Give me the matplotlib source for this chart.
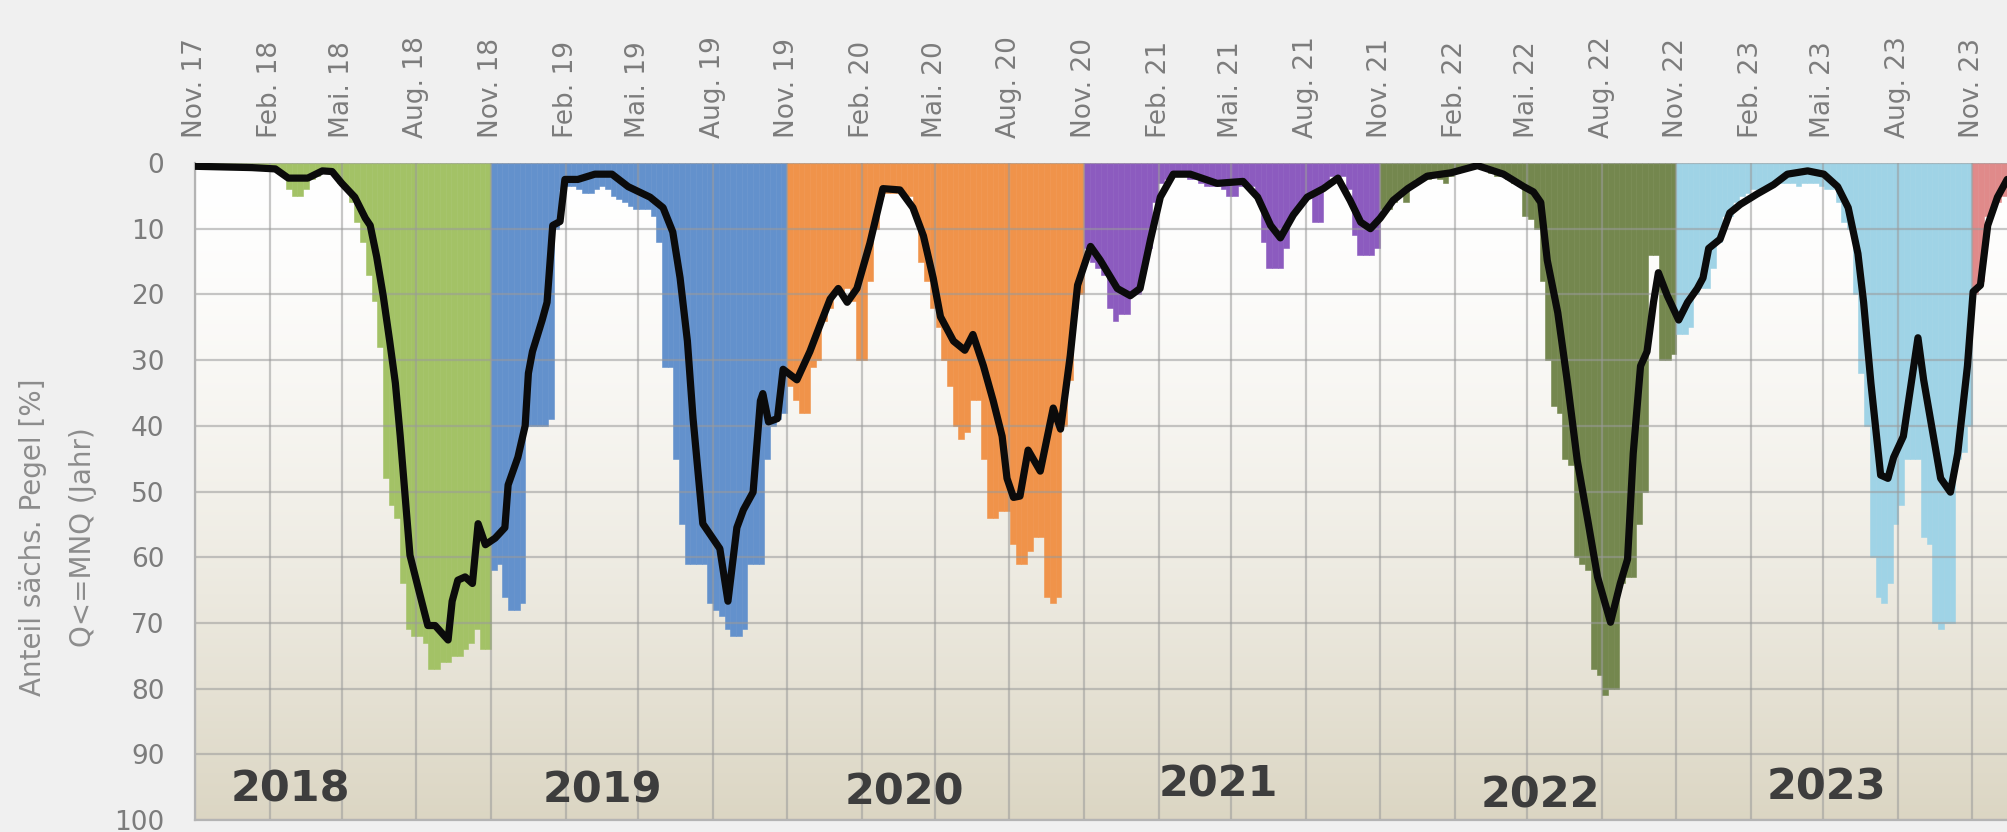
import matplotlib
matplotlib.use("Agg")
import matplotlib.pyplot as plt
import matplotlib.dates as mdates
import numpy as np
from datetime import date, timedelta

# Share of Saxon gauges with Q <= MNQ, weekly values per hydrological year (Nov-Oct)
hydro_years = [2018, 2019, 2020, 2021, 2022, 2023, 2024]

bars_2018 = [0.5, 0.5, 0.5, 0.5, 0.5, 0.5, 0.5, 0.5, 0.5, 0.5, 0.5, 1, 1, 1, 1, 1.5,
             4, 5, 5, 4, 2.5, 2, 1.5, 1.5, 2, 3, 4, 6, 9, 12, 17, 21, 28, 48, 52, 54,
             64, 71, 72, 72, 73, 77, 77, 76, 76, 75, 75, 74, 73, 71, 74, 74]
bars_2019 = [62, 61, 66, 68, 68, 67, 40, 40, 40, 40, 39, 10, 4, 3.5, 3.5, 4, 4.5, 4.5, 4, 3.5, 4,
             5, 5.5, 6, 6.5, 7, 7, 7, 8, 12, 31, 31, 45, 55, 61, 61, 61, 61, 67, 68, 69,
             71, 72, 72, 71, 61, 61, 61, 45, 40, 39, 38]
bars_2020 = [34, 36, 38, 38, 31, 30, 24, 22, 20, 20, 19, 21, 30, 30, 18, 10, 5, 4.5, 4.5, 4.5,
             5, 5, 8, 15, 18, 22, 25, 30, 34, 40, 42, 41, 36, 36, 45, 54, 54, 53, 53, 58,
             61, 61, 59, 57, 57, 66, 67, 66, 40, 33, 22, 20]
bars_2021 = [13, 15, 16, 17, 22, 24, 23, 23, 20, 20, 16, 13, 6, 3, 2.5, 2, 2, 2, 2.5, 2.5,
             3, 3.5, 3.5, 3.5, 4, 5, 5, 3.5, 3, 3.5, 5, 12, 16, 16, 16, 13, 8, 7, 6, 5,
             9, 9, 3, 2, 2, 2, 4, 11, 14, 14, 14, 13]
bars_2022 = [7, 7, 6, 5, 6, 3, 2.5, 2.5, 2.5, 2, 2.5, 3, 2, 1.5, 1, 0.5, 0.5, 0.5, 1, 1.5,
             2, 2, 2.5, 3, 3.5, 8, 8.5, 10, 18, 30, 37, 38, 45, 46, 60, 61, 62, 77, 78, 81,
             80, 80, 64, 63, 63, 55, 50, 14, 14, 30, 30, 29]
bars_2023 = [26, 26, 25, 20, 19, 19, 16, 12, 8, 8, 6, 5, 4.5, 4, 4, 3.5, 3.5, 3, 3, 3,
             3, 3.5, 3, 3, 3, 3.5, 4, 4, 6, 9, 10, 20, 32, 40, 60, 66, 67, 64, 55, 52,
             45, 45, 45, 57, 58, 70, 71, 70, 70, 45, 44, 40]
bars_2024 = [20, 18, 8, 7, 6, 5, 5]

year_bars = [bars_2018, bars_2019, bars_2020, bars_2021, bars_2022, bars_2023, bars_2024]
year_colors = ["#a3c266", "#6391cc", "#f0934a", "#8c5bbf", "#74874e", "#9fd3e6", "#e08a8a"]

# Smoothed share (black curve)
line_dates = [
    "2017-11-01", "2018-01-10", "2018-02-08", "2018-02-24", "2018-03-20", "2018-04-07",
    "2018-04-19", "2018-05-01", "2018-05-17", "2018-05-30", "2018-06-05", "2018-06-13",
    "2018-06-21", "2018-06-29", "2018-07-06", "2018-07-12", "2018-07-18", "2018-07-24",
    "2018-08-03", "2018-08-15", "2018-08-24", "2018-09-09", "2018-09-14", "2018-09-21",
    "2018-09-30", "2018-10-09", "2018-10-16", "2018-10-25", "2018-11-06", "2018-11-18",
    "2018-11-22", "2018-12-04", "2018-12-13", "2018-12-17", "2018-12-22", "2019-01-03",
    "2019-01-09", "2019-01-16", "2019-01-25", "2019-01-31", "2019-02-16", "2019-03-09",
    "2019-03-30", "2019-04-19", "2019-05-16", "2019-06-01", "2019-06-13", "2019-06-22",
    "2019-07-01", "2019-07-08", "2019-07-20", "2019-08-10", "2019-08-20", "2019-08-31",
    "2019-09-08", "2019-09-20", "2019-09-29", "2019-10-02", "2019-10-09", "2019-10-20",
    "2019-10-27", "2019-11-13", "2019-11-29", "2019-12-12", "2019-12-24", "2020-01-03",
    "2020-01-14", "2020-01-26", "2020-02-11", "2020-02-27", "2020-03-19", "2020-04-04",
    "2020-04-17", "2020-04-29", "2020-05-08", "2020-05-24", "2020-06-07", "2020-06-17",
    "2020-06-30", "2020-07-12", "2020-07-23", "2020-07-29", "2020-08-06", "2020-08-14",
    "2020-08-24", "2020-09-08", "2020-09-24", "2020-10-03", "2020-10-15", "2020-10-24",
    "2020-11-09", "2020-11-21", "2020-12-12", "2020-12-28", "2021-01-09", "2021-01-22",
    "2021-02-03", "2021-02-19", "2021-03-12", "2021-04-14", "2021-05-16", "2021-06-03",
    "2021-06-19", "2021-07-01", "2021-07-17", "2021-08-03", "2021-08-23", "2021-09-10",
    "2021-09-25", "2021-10-08", "2021-10-20", "2021-11-01", "2021-11-17", "2021-12-05",
    "2021-12-29", "2022-01-27", "2022-03-01", "2022-04-02", "2022-04-27", "2022-05-09",
    "2022-05-18", "2022-05-26", "2022-06-08", "2022-06-20", "2022-07-02", "2022-07-15",
    "2022-07-27", "2022-08-12", "2022-08-24", "2022-09-02", "2022-09-09", "2022-09-18",
    "2022-09-26", "2022-10-04", "2022-10-10", "2022-10-21", "2022-11-04", "2022-11-15",
    "2022-11-27", "2022-12-04", "2022-12-11", "2022-12-25", "2023-01-06", "2023-01-19",
    "2023-02-09", "2023-03-01", "2023-03-18", "2023-04-12", "2023-05-02", "2023-05-19",
    "2023-06-01", "2023-06-13", "2023-06-20", "2023-06-29", "2023-07-11", "2023-07-20",
    "2023-07-27", "2023-08-08", "2023-08-17", "2023-08-26", "2023-09-02", "2023-09-14",
    "2023-09-23", "2023-10-05", "2023-10-14", "2023-10-26", "2023-11-02", "2023-11-11",
    "2023-11-20", "2023-12-02", "2023-12-14",
]
line_values = [
    0.5, 0.7, 0.9, 2.3, 2.3, 1.2,
    1.3, 3.1, 5.2, 8.4, 9.5, 14.3,
    20.2, 27.1, 33.5, 41.6, 50.7, 59.7,
    64.6, 70.4, 70.4, 72.6, 66.7, 63.5,
    63, 64, 54.9, 58.1, 57.1, 55.5,
    49, 44.8, 40, 32, 28.7, 23.9,
    21.2, 9.5, 8.9, 2.5, 2.5, 1.7,
    1.7, 3.6, 5.2, 6.8, 10.5, 17.5,
    27.1, 38.9, 54.9, 58.7, 66.7, 55.5,
    52.8, 50.1, 36.2, 35.1, 39.4, 38.9,
    31.4, 33, 28.7, 24.5, 20.7, 19.1,
    21.2, 19.1, 12.2, 3.9, 4.1, 6.8,
    11.1, 17.5, 23.4, 27.1, 28.5, 26.1,
    30.9, 36.2, 41.6, 48, 50.9, 50.7,
    43.7, 46.9, 37.3, 40.5, 29.3, 18.6,
    12.7, 14.8, 19.1, 20.2, 19.1, 11.6,
    5.2, 1.7, 1.7, 3.1, 2.8, 5.2,
    9.5, 11.4, 7.9, 5.2, 3.9, 2.3,
    5.7, 9, 10, 8.4, 5.7, 3.9,
    2, 1.5, 0.4, 1.7, 3.6, 4.4,
    6, 14.8, 22.8, 33.5, 45.3, 54.4,
    63, 69.9, 64, 60.3, 44.2, 30.9,
    28.7, 21.2, 16.7, 20.2, 23.9, 21.2,
    19.1, 17.5, 13, 11.6, 7.6, 6.3,
    4.7, 3.3, 1.7, 1.2, 1.7, 3.6,
    6.8, 13.8, 21.2, 33.5, 47.5, 48,
    44.8, 41.6, 34.1, 26.6, 33, 41.6,
    48, 50.1, 44.2, 30.9, 19.6, 18.6,
    9.5, 5.2, 2.5,
]

tick_labels = ["Nov. 17", "Feb. 18", "Mai. 18", "Aug. 18", "Nov. 18", "Feb. 19", "Mai. 19",
               "Aug. 19", "Nov. 19", "Feb. 20", "Mai. 20", "Aug. 20", "Nov. 20", "Feb. 21",
               "Mai. 21", "Aug. 21", "Nov. 21", "Feb. 22", "Mai. 22", "Aug. 22", "Nov. 22",
               "Feb. 23", "Mai. 23", "Aug. 23", "Nov. 23"]
y_ticks = [0, 10, 20, 30, 40, 50, 60, 70, 80, 90, 100]
year_labels = ["2018", "2019", "2020", "2021", "2022", "2023"]

# --- layout -------------------------------------------------------------
W, H = 2008, 832
fig = plt.figure(figsize=(W / 100, H / 100), dpi=100, facecolor="#f0f0f0")
ax_rect = [195 / W, 12 / H, (W - 195) / W, 657 / H]

# background gradient panel (white at the top, beige at the bottom)
bg = fig.add_axes(ax_rect, zorder=0)
t = np.linspace(0, 1, 400) ** 1.5
top_c = np.array([1.0, 1.0, 1.0])
bot_c = np.array([0.86, 0.838, 0.765])
grad = top_c[None, :] * (1 - t[:, None]) + bot_c[None, :] * t[:, None]
bg.imshow(grad[:, None, :], aspect="auto", extent=[0, 1, 0, 1], interpolation="bilinear")
bg.set_axis_off()

ax = fig.add_axes(ax_rect, zorder=1)
ax.patch.set_alpha(0)

# weekly bars, coloured per hydrological year
for yr, vals, col in zip(hydro_years, year_bars, year_colors):
    start = date(yr - 1, 11, 1)
    span = (date(yr, 11, 1) - start).days
    width = span / 52.0
    lefts = [mdates.date2num(start) + i * width for i in range(len(vals))]
    ax.bar(lefts, vals, width=width, bottom=0, align="edge", color=col,
           edgecolor=col, linewidth=0.4, zorder=1)

# smoothed curve
ld = [mdates.date2num(date.fromisoformat(d)) for d in line_dates]
ax.plot(ld, line_values, color="#0b0b0b", linewidth=5.2, solid_joinstyle="round",
        solid_capstyle="round", zorder=3)

# axes limits
ax.set_xlim(mdates.date2num(date(2017, 11, 1)), mdates.date2num(date(2023, 12, 15)))
ax.set_ylim(100, 0)

# ticks: every three months on top
tick_dates = []
d = date(2017, 11, 1)
for _ in tick_labels:
    tick_dates.append(mdates.date2num(d))
    m = d.month + 3
    y = d.year + (m - 1) // 12
    m = (m - 1) % 12 + 1
    d = date(y, m, 1)
ax.set_xticks(tick_dates)
ax.set_xticklabels(tick_labels, rotation=90, fontsize=19, color="#7c7c7c")
ax.xaxis.tick_top()
ax.tick_params(axis="x", length=0, pad=18)

ax.set_yticks(y_ticks)
ax.set_yticklabels([str(v) for v in y_ticks], fontsize=19, color="#7c7c7c")
ax.tick_params(axis="y", length=0, pad=22)

ax.set_axisbelow("line")
ax.grid(True, color="#9a9a9a", alpha=0.55, linewidth=1.6)
for s in ["top", "right"]:
    ax.spines[s].set_visible(False)
for s in ["left", "bottom"]:
    ax.spines[s].set_color("#b4b4b4")
    ax.spines[s].set_linewidth(1.6)

# year captions along the bottom
year_pos = [(date(2018, 2, 26), 95.4), (date(2019, 3, 18), 95.5), (date(2020, 3, 25), 95.8),
            (date(2021, 4, 15), 94.6), (date(2022, 5, 17), 96.3), (date(2023, 5, 5), 95.0)]
for lab, (dd, yy) in zip(year_labels, year_pos):
    ax.text(mdates.date2num(dd), yy, lab, ha="center", va="center", fontsize=31,
            fontweight="bold", color="#3d3d3d", zorder=4)

# y-axis caption (two rotated lines)
fig.text(33 / W, 1 - 537 / H, "Anteil sächs. Pegel [%]", rotation=90, ha="center",
         va="center", fontsize=20, color="#8c8c8c")
fig.text(83 / W, 1 - 537 / H, "Q<=MNQ (Jahr)", rotation=90, ha="center",
         va="center", fontsize=20, color="#8c8c8c")

fig.savefig("out.png", dpi=100, facecolor=fig.get_facecolor())
